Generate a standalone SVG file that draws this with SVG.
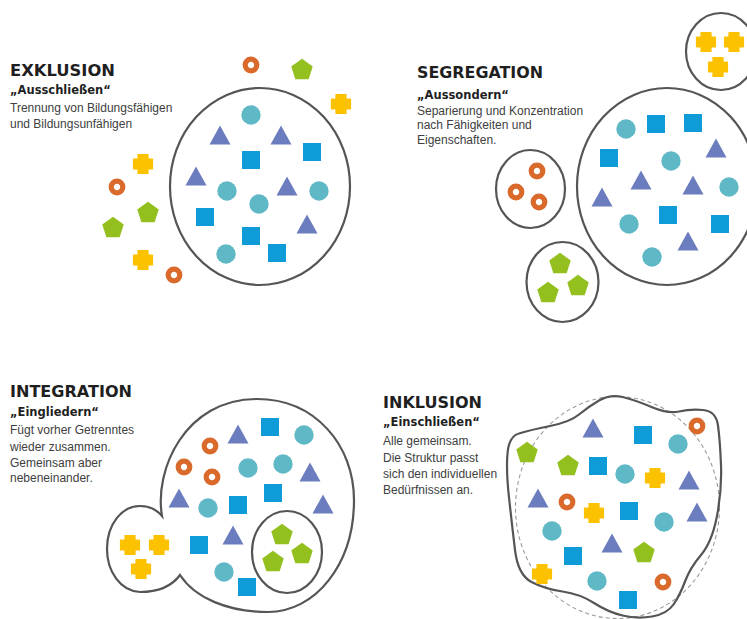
<svg xmlns="http://www.w3.org/2000/svg" xmlns:xlink="http://www.w3.org/1999/xlink" width="747" height="619" viewBox="0 0 747 619">
<style>
.ti{font-family:"DejaVu Sans","Liberation Sans",sans-serif;font-weight:bold;font-size:16px;fill:#1f1f1f}
.st{font-family:"DejaVu Sans","Liberation Sans",sans-serif;font-weight:bold;font-size:11.5px;fill:#1f1f1f}
.bd{font-family:"Liberation Sans",Arial,sans-serif;font-size:12px;fill:#404040}
.ol{fill:none;stroke:#555;stroke-width:2.2}
.ds{fill:none;stroke:#9a9a9a;stroke-width:1.1;stroke-dasharray:4 3}
</style>
<defs>
<circle id="c" r="9.7" fill="#5EB8C5"/>
<rect id="s" x="-9" y="-9" width="18" height="18" fill="#0E9BD8"/>
<polygon id="t" points="0,-9.5 10.5,9.5 -10.5,9.5" fill="#6B7DBE"/>
<polygon id="p" points="0,-11.3 10.75,-3.5 6.64,9.14 -6.64,9.14 -10.75,-3.5" fill="#93C01F"/>
<circle id="r" r="5.8" fill="none" stroke="#DA6A2B" stroke-width="5.2"/>
<path id="x" d="M-5,-9.5 h10 v4.5 h4.5 v10 h-4.5 v4.5 h-10 v-4.5 h-4.5 v-10 h4.5 z" fill="#FCC200" stroke="#FCC200" stroke-width="1.2" stroke-linejoin="round"/>
</defs>
<rect width="747" height="619" fill="#fff"/>

<g id="exklusion">
<text class="ti" x="10" y="75.5" textLength="105" lengthAdjust="spacingAndGlyphs">EXKLUSION</text>
<text class="st" x="10" y="93.5">„Ausschließen“</text>
<text class="bd" x="10" y="112">Trennung von Bildungsfähigen</text>
<text class="bd" x="10" y="128">und Bildungsunfähigen</text>
<ellipse class="ol" cx="260" cy="186.5" rx="90" ry="98.5"/>
<use href="#c" x="251" y="115"/><use href="#c" x="227" y="191"/><use href="#c" x="319" y="191"/><use href="#c" x="259" y="204"/><use href="#c" x="226" y="254"/>
<use href="#t" x="220" y="135"/><use href="#t" x="281" y="135"/><use href="#t" x="196" y="176"/><use href="#t" x="287" y="186"/><use href="#t" x="307" y="224"/>
<use href="#s" x="312" y="152"/><use href="#s" x="251" y="160"/><use href="#s" x="205" y="217"/><use href="#s" x="251" y="236"/><use href="#s" x="277" y="253"/>
<use href="#r" x="251" y="65"/><use href="#r" x="117" y="187"/><use href="#r" x="174" y="275"/>
<use href="#p" x="302" y="70"/><use href="#p" x="148" y="213"/><use href="#p" x="113" y="228"/>
<use href="#x" x="341" y="104"/><use href="#x" x="143" y="164"/><use href="#x" x="143" y="260"/>
</g>

<g id="segregation">
<text class="ti" x="417" y="77.5" textLength="126" lengthAdjust="spacingAndGlyphs">SEGREGATION</text>
<text class="st" x="417" y="98.5">„Aussondern“</text>
<text class="bd" x="417" y="114.5">Separierung und Konzentration</text>
<text class="bd" x="417" y="129">nach Fähigkeiten und</text>
<text class="bd" x="417" y="143.5">Eigenschaften.</text>
<ellipse class="ol" cx="721" cy="51.5" rx="35" ry="38.5"/>
<use href="#x" x="706" y="42"/><use href="#x" x="734" y="42"/><use href="#x" x="718" y="67"/>
<ellipse class="ol" cx="667" cy="186.5" rx="90" ry="98.5"/>
<use href="#c" x="626" y="129"/><use href="#c" x="671" y="161"/><use href="#c" x="729" y="187"/><use href="#c" x="629" y="224"/><use href="#c" x="652" y="257"/>
<use href="#s" x="656" y="124"/><use href="#s" x="693" y="123"/><use href="#s" x="609" y="158"/><use href="#s" x="668" y="215"/><use href="#s" x="720" y="224"/>
<use href="#t" x="716" y="148"/><use href="#t" x="641" y="180"/><use href="#t" x="693" y="185"/><use href="#t" x="602" y="197"/><use href="#t" x="688" y="241"/>
<ellipse class="ol" cx="530.5" cy="189" rx="34.5" ry="39"/>
<use href="#r" x="537" y="171"/><use href="#r" x="516" y="192"/><use href="#r" x="539" y="202"/>
<ellipse class="ol" cx="562.5" cy="282" rx="36" ry="40"/>
<use href="#p" x="560" y="264"/><use href="#p" x="578" y="286"/><use href="#p" x="548" y="293"/>
</g>

<g id="integration">
<text class="ti" x="10" y="397" textLength="122" lengthAdjust="spacingAndGlyphs">INTEGRATION</text>
<text class="st" x="10" y="415.5">„Eingliedern“</text>
<text class="bd" x="10" y="434">Fügt vorher Getrenntes</text>
<text class="bd" x="10" y="450.5">wieder zusammen.</text>
<text class="bd" x="10" y="467">Gemeinsam aber</text>
<text class="bd" x="10" y="482">nebeneinander.</text>
<path class="ol" d="M162,516 C154,470 185,399 257,399 C315,399 354,445 354,500 C354,565 315,612 268,612 C228,612 195,598 180,575 C172,586 158,592 140,592 C120,591 107,571 107,549 C107,524 122,506 140,506 C150,506 157,510 162,516 Z"/>
<ellipse class="ol" cx="287" cy="552" rx="35" ry="41"/>
<use href="#r" x="210" y="446"/><use href="#r" x="184" y="467"/><use href="#r" x="212" y="477"/>
<use href="#t" x="238" y="434"/><use href="#t" x="310" y="472"/><use href="#t" x="179" y="498"/><use href="#t" x="323" y="504"/><use href="#t" x="233" y="535"/>
<use href="#s" x="270" y="427"/><use href="#s" x="238" y="505"/><use href="#s" x="273" y="493"/><use href="#s" x="199" y="545"/><use href="#s" x="247" y="587"/>
<use href="#c" x="304" y="435"/><use href="#c" x="248" y="468"/><use href="#c" x="283" y="464"/><use href="#c" x="208" y="508"/><use href="#c" x="224" y="572"/>
<use href="#p" x="282" y="535"/><use href="#p" x="302" y="554"/><use href="#p" x="273" y="562"/>
<use href="#x" x="130" y="545"/><use href="#x" x="159" y="545"/><use href="#x" x="141" y="569"/>
</g>

<g id="inklusion">
<text class="ti" x="383" y="408" textLength="99" lengthAdjust="spacingAndGlyphs">INKLUSION</text>
<text class="st" x="383" y="426">„Einschließen“</text>
<text class="bd" x="383" y="445">Alle gemeinsam.</text>
<text class="bd" x="383" y="461.5">Die Struktur passt</text>
<text class="bd" x="383" y="477.5">sich den individuellen</text>
<text class="bd" x="383" y="493.5">Bedürfnissen an.</text>
<ellipse class="ds" cx="617.5" cy="507.5" rx="102" ry="111"/>
<path class="ol" d="M519,433.5 Q509,436 507.5,453.5 Q506,470 509,497.5 Q512,525 515,550 Q518,575 531.5,582 Q545,589 562.5,591.5 Q580,594 594,603 Q608,612 622.5,615.5 Q637,619 652,616.5 Q667,614 673.5,604.5 Q680,595 685,581.5 Q690,568 701,555 Q712,542 717,516 Q722,490 721,465 Q720,440 718,425.5 Q716,411 703,410 Q690,409 679,411.5 Q668,414 651.5,407 Q635,400 622.5,397 Q610,394 599,400.5 Q588,407 579,414.5 Q570,422 550,426 Q530,430 519,433.5 Z"/>
<use href="#t" x="593" y="428"/><use href="#t" x="689" y="480"/><use href="#t" x="538" y="498"/><use href="#t" x="697" y="512"/><use href="#t" x="612" y="543"/>
<use href="#s" x="643" y="435"/><use href="#s" x="598" y="466"/><use href="#s" x="629" y="511"/><use href="#s" x="573" y="556"/><use href="#s" x="628" y="600"/>
<use href="#c" x="678" y="444"/><use href="#c" x="625" y="474"/><use href="#c" x="664" y="522"/><use href="#c" x="552" y="531"/><use href="#c" x="597" y="581"/>
<use href="#r" x="697" y="426"/><use href="#r" x="567" y="502"/><use href="#r" x="663" y="582"/>
<use href="#p" x="527" y="453"/><use href="#p" x="568" y="466"/><use href="#p" x="644" y="553"/>
<use href="#x" x="655" y="478"/><use href="#x" x="594" y="513"/><use href="#x" x="542" y="574"/>
</g>
</svg>
